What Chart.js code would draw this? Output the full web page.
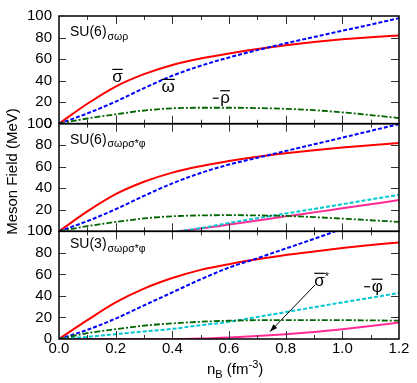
<!DOCTYPE html>
<html>
<head>
<meta charset="utf-8">
<script src="https://cdn.jsdelivr.net/npm/chart.js@4.4.1/dist/chart.umd.min.js"></script>
<style>
  html, body { margin: 0; padding: 0; background: #fff; }
</style>
</head>
<body>
<canvas id="chart" width="417" height="383"></canvas>
<script>
// baryon density grid (fm^-3)
const nB = [0, 0.1, 0.2, 0.3, 0.4, 0.5, 0.6, 0.7, 0.8, 0.9, 1.0, 1.1, 1.2];
const nBHyperon = [0.42, 0.5, 0.6, 0.7, 0.8, 0.9, 1.0, 1.1, 1.2];
const nBOmegaSU3 = [0, 0.1, 0.2, 0.3, 0.4, 0.5, 0.6, 0.7, 0.8, 0.9, 0.975];

// SU(6) sigma-omega-rho
const sigmaA = [0, 18.5, 34.5, 46, 54.5, 60.5, 65.2, 69.3, 72.8, 75.8, 78.3, 80.3, 82];
const omegaA = [0, 9.5, 20.5, 33, 44.5, 53.8, 61.5, 68.3, 74.6, 80.5, 86.3, 92, 98];
const rhoA   = [0, 4.8, 8.7, 12.2, 14.3, 14.8, 14.8, 14.5, 13.8, 12.5, 10.5, 8, 5.2];

// SU(6) sigma-omega-rho-sigma*-phi
const sigmaB = [0, 18.5, 34.5, 46, 54.5, 60.5, 65.3, 69.3, 72.5, 75.3, 77.8, 80, 82];
const omegaB = [0, 9.5, 20.5, 33, 44.5, 54.2, 62, 68.3, 74.6, 80.8, 87, 93.3, 99.6];
const rhoB   = [0, 4.8, 8.7, 12, 14, 14.8, 15, 14.8, 14.3, 13.2, 11.8, 10.3, 8.8];
const phiB       = [0, 3, 7.8, 12.2, 16.5, 20.8, 25.2, 29.6, 34];
const sigmaStarB = [0, 2.6, 6.3, 10, 13.9, 17.6, 21.4, 25.2, 29];

// SU(3) sigma-omega-rho-sigma*-phi
const sigmaC = [0, 17.5, 34, 46.8, 56.6, 64.2, 69.5, 74, 78, 81.3, 84.5, 87.3, 89.7];
const omegaC = [0, 8.5, 19, 31.2, 43.3, 55.4, 66.3, 75, 84, 93, 100];
const rhoC   = [0, 5.4, 9.1, 12.4, 14.5, 16, 17, 17.5, 17.6, 17.6, 17.5, 17.3, 17];
const phiC   = [0, 2, 4.5, 7, 9.4, 12.8, 16, 20.5, 25, 29.5, 34, 38.3, 42.7];
const sigmaStarC = [0, 0, 0, 0, 0, 0.5, 1.5, 2.8, 4.5, 6.5, 9, 12, 15.3];

const xTickValues = [0, 0.2, 0.4, 0.6, 0.8, 1.0, 1.2];
const yTickValues = [0, 20, 40, 60, 80, 100];

const FONT = '"Liberation Sans", Arial, Helvetica, sans-serif';
Chart.defaults.font.family = FONT;
Chart.defaults.color = '#000';

const pts = (xs, ys) => xs.map((x, i) => ({ x: x, y: ys[i] }));

const RED = '#ff0000', BLUE = '#0000ff', GREEN = '#006400', CYAN = '#00c8d2', PINK = '#ff2a96';

function line(xs, ys, axis, color, dash, width) {
  return {
    data: pts(xs, ys),
    yAxisID: axis,
    xAxisID: 'x',
    borderColor: color,
    borderWidth: width || 2,
    borderDash: dash || [],
    pointRadius: 0,
    fill: false,
    cubicInterpolationMode: 'monotone'
  };
}

const DASH = [4, 2];
const DASHDOT = [6, 2, 2, 2];

const datasets = [
  line(nB, rhoA, 'yA', GREEN, DASHDOT, 1.8),
  line(nB, omegaA, 'yA', BLUE, DASH),
  line(nB, sigmaA, 'yA', RED),

  line(nB, rhoB, 'yB', GREEN, DASHDOT, 1.8),
  line(nBHyperon, phiB, 'yB', CYAN, DASH),
  line(nBHyperon, sigmaStarB, 'yB', PINK),
  line(nB, omegaB, 'yB', BLUE, DASH),
  line(nB, sigmaB, 'yB', RED),

  line(nB, rhoC, 'yC', GREEN, DASHDOT, 1.8),
  line(nB, phiC, 'yC', CYAN, DASH),
  line(nB, sigmaStarC, 'yC', PINK),
  line(nBOmegaSU3, omegaC, 'yC', BLUE, DASH),
  line(nB, sigmaC, 'yC', RED)
];

const panels = [
  { axis: 'yA', name: 'SU(6)', sub: 'σωρ', base: 20 },
  { axis: 'yB', name: 'SU(6)', sub: 'σωρσ*φ', base: 20 },
  { axis: 'yC', name: 'SU(3)', sub: 'σωρσ*φ', base: 17 }
];

function yAxis() {
  return {
    type: 'linear',
    position: 'left',
    stack: 'panels',
    stackWeight: 1,
    min: 0,
    max: 100,
    grid: { display: false, drawTicks: false },
    border: { display: false },
    afterBuildTicks: (s) => { s.ticks = yTickValues.map((v) => ({ value: v })); },
    ticks: { padding: 7, color: '#000', font: { size: 15 }, autoSkip: false },
    afterFit: (s) => { s.width = 59; }
  };
}

// symbol with an overline, optional leading dash and star
function barLabel(ctx, px, py, sym, dash, star) {
  ctx.font = '17px ' + FONT;
  ctx.textBaseline = 'alphabetic';
  ctx.textAlign = 'left';
  let x = px;
  ctx.lineWidth = 1.2;
  if (dash) {
    ctx.beginPath();
    ctx.moveTo(x, py - 5);
    ctx.lineTo(x + 6, py - 5);
    ctx.stroke();
    x += 7.5;
  }
  const w = ctx.measureText(sym).width;
  ctx.fillText(sym, x, py);
  ctx.beginPath();
  ctx.moveTo(x, py - 12.5);
  ctx.lineTo(x + w, py - 12.5);
  ctx.stroke();
  if (star) {
    ctx.font = '11px ' + FONT;
    ctx.fillText('*', x + w, py - 6);
  }
}

const decorations = {
  id: 'decorations',
  afterDatasetsDraw(chart) {
    const ctx = chart.ctx;
    const xs = chart.scales.x;
    ctx.save();
    ctx.strokeStyle = '#000';
    ctx.fillStyle = '#000';

    panels.forEach((p) => {
      const ys = chart.scales[p.axis];
      // ticks pointing inward
      ctx.lineWidth = 1;
      ctx.strokeStyle = '#333';
      for (let i = 1; i < 12; i++) {
        const px = Math.round(xs.getPixelForValue(i / 10)) + 0.5;
        const len = i % 2 ? 4 : 8;
        ctx.beginPath();
        ctx.moveTo(px, ys.bottom); ctx.lineTo(px, ys.bottom - len);
        ctx.moveTo(px, ys.top); ctx.lineTo(px, ys.top + len);
        ctx.stroke();
      }
      for (let v = 20; v < 100; v += 20) {
        const py = Math.round(ys.getPixelForValue(v)) + 0.5;
        ctx.beginPath();
        ctx.moveTo(xs.left, py); ctx.lineTo(xs.left + 7, py);
        ctx.moveTo(xs.right, py); ctx.lineTo(xs.right - 8, py);
        ctx.stroke();
      }
      // frame
      ctx.strokeStyle = '#000';
      ctx.lineWidth = 1.5;
      ctx.strokeRect(xs.left, ys.top, xs.right - xs.left, ys.bottom - ys.top);

      // panel name with subscript
      ctx.textAlign = 'left';
      ctx.textBaseline = 'alphabetic';
      ctx.font = '14px ' + FONT;
      const tx = xs.left + 11, ty = ys.top + p.base;
      ctx.fillText(p.name, tx, ty);
      const nw = ctx.measureText(p.name).width;
      ctx.font = '10.5px ' + FONT;
      ctx.fillText(p.sub, tx + nw + 1, ty + 3.5);
    });

    // curve labels
    const yA = chart.scales.yA, yC = chart.scales.yC;
    barLabel(ctx, xs.getPixelForValue(0.188), yA.getPixelForValue(38.8), 'σ', false, false);
    barLabel(ctx, xs.getPixelForValue(0.362), yA.getPixelForValue(29.5), 'ω', false, false);
    barLabel(ctx, xs.getPixelForValue(0.5425), yA.getPixelForValue(19), 'ρ', true, false);
    barLabel(ctx, xs.getPixelForValue(0.901), yC.getPixelForValue(49.4), 'σ', false, true);
    barLabel(ctx, xs.getPixelForValue(1.077), yC.getPixelForValue(43.9), 'φ', true, false);

    // arrow from sigma* label to its curve
    const ax0 = xs.getPixelForValue(0.904), ay0 = yC.getPixelForValue(50.3);
    const ax1 = xs.getPixelForValue(0.745), ay1 = yC.getPixelForValue(6.9);
    ctx.lineWidth = 1;
    ctx.beginPath();
    ctx.moveTo(ax0, ay0); ctx.lineTo(ax1, ay1);
    ctx.stroke();
    const ang = Math.atan2(ay1 - ay0, ax1 - ax0);
    ctx.beginPath();
    ctx.moveTo(ax1, ay1);
    ctx.lineTo(ax1 - 8 * Math.cos(ang - 0.35), ay1 - 8 * Math.sin(ang - 0.35));
    ctx.lineTo(ax1 - 8 * Math.cos(ang + 0.35), ay1 - 8 * Math.sin(ang + 0.35));
    ctx.closePath();
    ctx.fill();

    // axis titles
    ctx.font = '15px ' + FONT;
    ctx.save();
    ctx.translate(12.5, (chart.chartArea.top + chart.chartArea.bottom) / 2 - 6);
    ctx.rotate(-Math.PI / 2);
    ctx.textAlign = 'center';
    ctx.textBaseline = 'middle';
    ctx.fillText('Meson Field (MeV)', 0, 0);
    ctx.restore();

    let x = xs.left + 148;
    const by = 374;
    ctx.textAlign = 'left';
    ctx.textBaseline = 'alphabetic';
    const parts = [['n', 15, 0], ['B', 11, 4], [' (fm', 15, 0], ['-3', 11, -6], [')', 15, 0]];
    parts.forEach(([t, size, dy]) => {
      ctx.font = size + 'px ' + FONT;
      ctx.fillText(t, x, by + dy);
      x += ctx.measureText(t).width;
    });

    ctx.restore();
  }
};

new Chart(document.getElementById('chart'), {
  type: 'line',
  data: { datasets: datasets },
  options: {
    responsive: false,
    animation: false,
    devicePixelRatio: 1,
    layout: { padding: { top: 10, right: 18, left: 0, bottom: 0 } },
    plugins: {
      legend: { display: false },
      tooltip: { enabled: false }
    },
    scales: {
      x: {
        type: 'linear',
        position: 'bottom',
        min: 0,
        max: 1.2,
        grid: { display: false, drawTicks: false },
        border: { display: false },
        afterBuildTicks: (s) => { s.ticks = xTickValues.map((v) => ({ value: v })); },
        ticks: {
          padding: 1,
          color: '#000',
          font: { size: 15 },
          maxRotation: 0,
          autoSkip: false,
          callback: (v) => Number(v).toFixed(1)
        },
        afterFit: (s) => { s.height = 44; }
      },
      yC: yAxis(),
      yB: yAxis(),
      yA: yAxis()
    }
  },
  plugins: [decorations]
});
</script>
</body>
</html>
